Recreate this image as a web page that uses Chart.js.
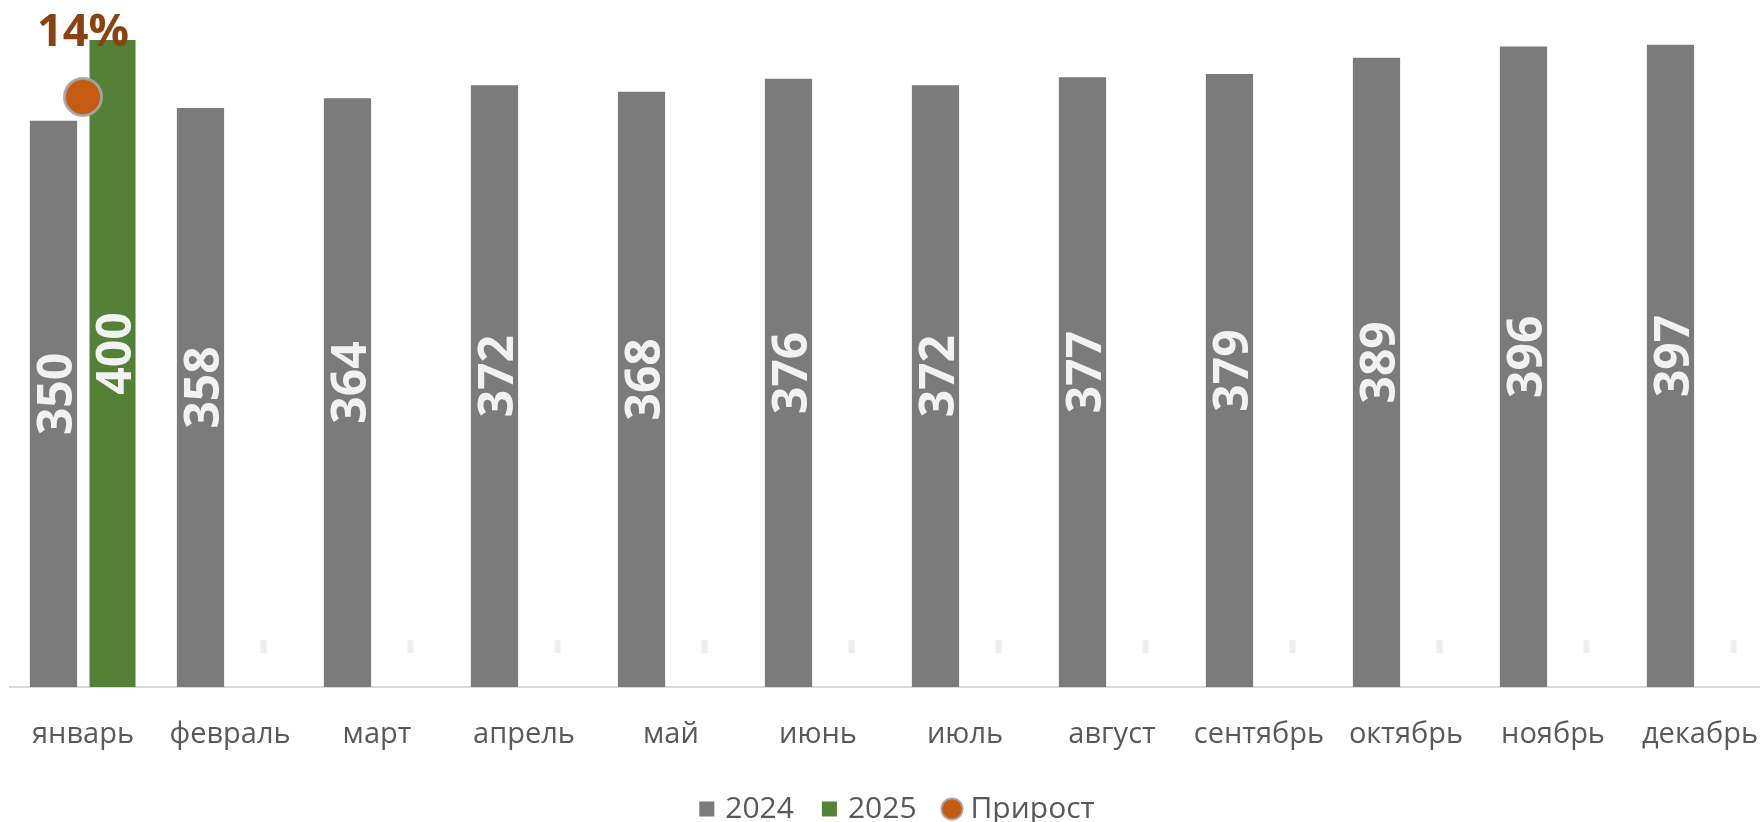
<!DOCTYPE html>
<html>
<head>
<meta charset="utf-8">
<script src="https://cdn.jsdelivr.net/npm/chart.js@4.4.1/dist/chart.umd.min.js"></script>
<style>
  html, body { margin: 0; padding: 0; background: #ffffff; overflow: hidden; width: 1760px; height: 822px; }
  #c { display: block; }
</style>
</head>
<body>
<canvas id="c" width="1798" height="822" style="width:1798px;height:822px"></canvas>
<script>
const categories = ['январь','февраль','март','апрель','май','июнь','июль','август','сентябрь','октябрь','ноябрь','декабрь'];
const values2024 = [350, 358, 364, 372, 368, 376, 372, 377, 379, 389, 396, 397];
const values2025 = [400, null, null, null, null, null, null, null, null, null, null, null];
const growth = [0.14, null, null, null, null, null, null, null, null, null, null, null];
const seriesNames = ['2024', '2025', 'Прирост'];

const FONT = '"Open Sans", "Noto Sans", sans-serif';
const C_GRAY = '#7b7b7b';
const C_GREEN = '#538135';
const C_ORANGE = '#c55a11';
const C_TEXT = '#595959';

const labelPlugin = {
  id: 'valueLabels',
  afterDatasetsDraw(chart) {
    const ctx = chart.ctx;
    [0, 1].forEach(di => {
      const meta = chart.getDatasetMeta(di);
      const data = chart.data.datasets[di].data;
      meta.data.forEach((el, i) => {
        const v = data[i];
        if (v === null || v === undefined) {
          if (di === 1) {
            const base = chart.scales.y.getPixelForValue(0);
            ctx.save();
            ctx.fillStyle = '#eeeeee';
            ctx.fillRect(el.x + 1, base - 47, 6, 13);
            ctx.restore();
          }
          return;
        }
        ctx.save();
        ctx.translate(el.x + 5, (el.y + el.base) / 2 - 10);
        ctx.rotate(-Math.PI / 2);
        ctx.font = 'bold 48px ' + FONT;
        ctx.fillStyle = '#f2f2f2';
        ctx.textAlign = 'center';
        ctx.textBaseline = 'middle';
        ctx.fillText(String(v), 0, 0);
        ctx.restore();
      });
    });
    const meta = chart.getDatasetMeta(2);
    meta.data.forEach((el, i) => {
      const v = growth[i];
      if (v === null || v === undefined) return;
      ctx.save();
      ctx.font = 'bold 45px ' + FONT;
      ctx.fillStyle = '#8a4310';
      ctx.textAlign = 'center';
      ctx.textBaseline = 'middle';
      ctx.fillText(Math.round(v * 100) + '%', el.x, el.y - 64);
      ctx.restore();
    });
  }
};

new Chart(document.getElementById('c'), {
  data: {
    labels: categories,
    datasets: [
      {
        type: 'bar', label: seriesNames[0], data: values2024,
        backgroundColor: C_GRAY, yAxisID: 'y', order: 2,
        barPercentage: 0.8, categoryPercentage: 0.803
      },
      {
        type: 'bar', label: seriesNames[1], data: values2025,
        backgroundColor: C_GREEN, yAxisID: 'y', order: 2,
        barPercentage: 0.78, categoryPercentage: 0.803
      },
      {
        type: 'line', label: seriesNames[2], data: growth,
        yAxisID: 'y2', showLine: false, order: 0,
        pointRadius: 18.5, pointHoverRadius: 18.5,
        pointBackgroundColor: C_ORANGE, pointBorderColor: 'rgba(165,165,165,0.9)',
        pointBorderWidth: 3, backgroundColor: C_ORANGE, borderColor: 'rgba(165,165,165,0.9)'
      }
    ]
  },
  options: {
    responsive: false,
    maintainAspectRatio: false,
    animation: false,
    devicePixelRatio: 1,
    layout: { autoPadding: false, padding: { left: 0, right: 0, top: 7.6, bottom: 0 } },
    scales: {
      x: {
        grid: { display: true, drawOnChartArea: false, drawTicks: false, color: 'rgba(0,0,0,0)' },
        border: { display: true, color: '#d9d9d9', width: 2 },
        ticks: { color: C_TEXT, font: { family: FONT, size: 29 }, padding: 30, maxRotation: 0, autoSkip: false },
        afterFit(scale) { scale.height = 75; scale.paddingLeft = 9.5; scale.paddingRight = 24.5; }
      },
      y: { display: false, min: 0, max: 420 },
      y2: { display: false, min: 0, max: 0.1612, position: 'right' }
    },
    plugins: {
      tooltip: { enabled: false },
      legend: {
        position: 'bottom',
        maxHeight: 60,
        labels: {
          color: C_TEXT,
          font: { family: FONT, size: 30 },
          usePointStyle: true,
          boxHeight: 15,
          boxWidth: 7,
          padding: 32,
          generateLabels(chart) {
            return chart.data.datasets.map((ds, i) => ({
              text: ds.label,
              fillStyle: ds.type === 'line' ? C_ORANGE : ds.backgroundColor,
              strokeStyle: ds.type === 'line' ? 'rgba(165,165,165,0.9)' : ds.backgroundColor,
              lineWidth: ds.type === 'line' ? 2 : 0,
              pointStyle: ds.type === 'line' ? 'circle' : 'rect',
              fontColor: C_TEXT,
              hidden: false,
              datasetIndex: i
            }));
          }
        }
      }
    }
  },
  plugins: [labelPlugin]
});
</script>
</body>
</html>
